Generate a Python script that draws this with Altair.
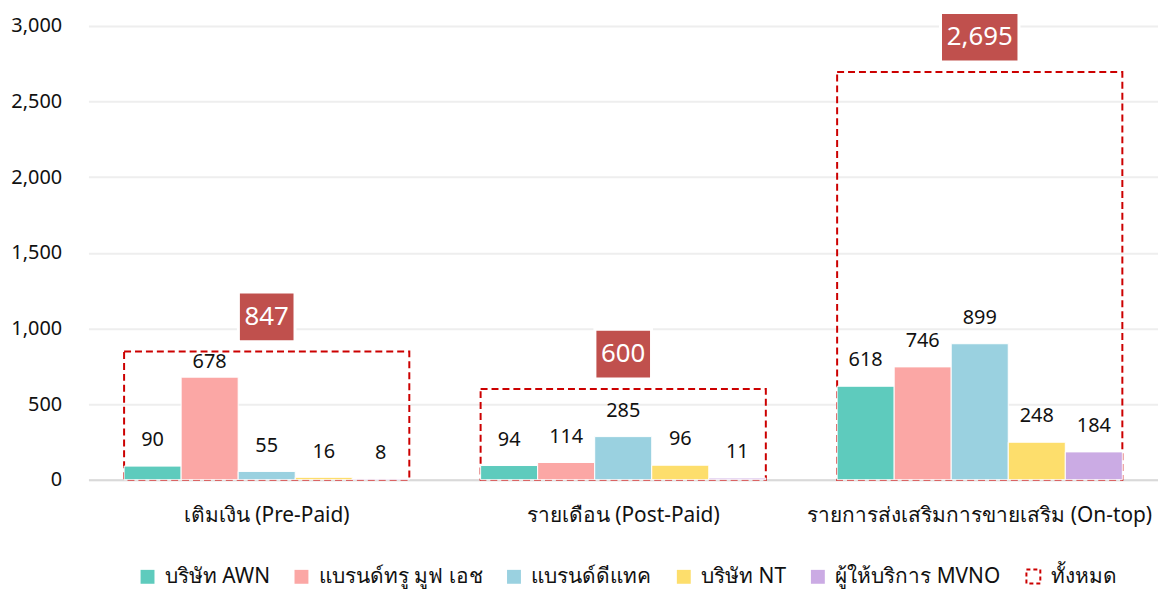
import altair as alt
import pandas as pd

categories = ["เติมเงิน (Pre-Paid)", "รายเดือน (Post-Paid)", "รายการส่งเสริมการขายเสริม (On-top)"]
series = ["บริษัท AWN", "แบรนด์ทรู มูฟ เอช", "แบรนด์ดีแทค", "บริษัท NT", "ผู้ให้บริการ MVNO"]
awn = [90, 94, 618]
truemove = [678, 114, 746]
dtac = [55, 285, 899]
nt = [16, 96, 248]
mvno = [8, 11, 184]
totals = [847, 600, 2695]
total_name = "ทั้งหมด"
y_ticks = [0, 500, 1000, 1500, 2000, 2500, 3000]

colors = ["#5ECBBD", "#FBA7A5", "#9AD1E0", "#FDDE6C", "#CBABE4"]
FONT = "Tahoma, 'Noto Sans', 'DejaVu Sans', sans-serif"
TXT = "#111111"

rows = []
for s, vals in zip(series, [awn, truemove, dtac, nt, mvno]):
    for c, v, t in zip(categories, vals, totals):
        rows.append({"category": c, "series": s, "value": v, "total": t})
df = pd.DataFrame(rows)
tot_df = pd.DataFrame({"category": categories, "total": totals, "kind": [total_name] * 3})

yscale = alt.Scale(domain=[0, 3000])
x_enc = alt.X(
    "category:N", sort=categories,
    scale=alt.Scale(paddingInner=0.2, paddingOuter=0.1),
    axis=alt.Axis(title=None, labelAngle=0, labelFontSize=21, labelColor=TXT, labelLimit=600,
                  labelPadding=25, ticks=False, domain=True, domainColor="#D9D9D9",
                  domainWidth=2, grid=False),
)
y_axis = alt.Axis(title=None, values=y_ticks, format=",", labelExpr="format(datum.value, ',')",
                  labelFontSize=20, labelColor=TXT, labelPadding=27, ticks=False, domain=False,
                  gridColor="#EEEEEE", gridWidth=2)
xoff = alt.XOffset("series:N", sort=series, scale=alt.Scale(paddingInner=0, paddingOuter=0))

box = alt.Chart(tot_df).mark_bar(fill="white", fillOpacity=0, strokeWidth=2, strokeDash=[7, 4]).encode(
    x=x_enc,
    y=alt.Y("total:Q", scale=yscale, axis=y_axis),
    stroke=alt.Stroke("kind:N", scale=alt.Scale(domain=[total_name], range=["#CC0000"]),
                      legend=alt.Legend(orient="none", legendX=941, legendY=544, title=None,
                                        symbolType="square", symbolSize=196, symbolDash=[4, 3],
                                        symbolStrokeWidth=2, symbolFillColor="white",
                                        labelFontSize=21, labelColor=TXT, labelOffset=7,
                                        labelLimit=400, padding=0)),
)

bars = alt.Chart(df).mark_bar(stroke="white", strokeWidth=1).encode(
    x=alt.X("category:N", sort=categories),
    xOffset=xoff,
    y=alt.Y("value:Q", scale=yscale, axis=y_axis),
    color=alt.Color("series:N", sort=series, scale=alt.Scale(domain=series, range=colors),
                    legend=alt.Legend(orient="none", legendX=49, legendY=544, direction="horizontal",
                                      columns=5, title=None, symbolType="square", symbolSize=196,
                                      symbolStrokeWidth=0, labelFontSize=21, labelColor=TXT,
                                      labelOffset=7, labelLimit=400, columnPadding=21, padding=0)),
)

labels = alt.Chart(df).transform_calculate(
    ly="min(datum.value + 170, datum.total - 70)"
).mark_text(fontSize=20, color=TXT, baseline="middle").encode(
    x=alt.X("category:N", sort=categories),
    xOffset=xoff,
    y=alt.Y("ly:Q", scale=yscale, axis=y_axis),
    text=alt.Text("value:Q", format=","),
)

short_path = "M-28.5,-25L28.5,-25L28.5,25L-28.5,25Z"
long_path = "M-39.5,-25L39.5,-25L39.5,25L-39.5,25Z"

tot_box = alt.Chart(tot_df).transform_calculate(
    w="length(format(datum.total, ',')) > 3 ? 'long' : 'short'"
).mark_point(filled=True, fill="#C0504D", opacity=1, stroke="white", strokeWidth=3,
             size=4, yOffset=-35).encode(
    x=alt.X("category:N", sort=categories),
    y=alt.Y("total:Q", scale=yscale, axis=y_axis),
    shape=alt.Shape("w:N", scale=alt.Scale(domain=["short", "long"], range=[short_path, long_path]),
                    legend=None),
)

tot_text = alt.Chart(tot_df).mark_text(fontSize=26, color="white", baseline="middle", dy=-35).encode(
    x=alt.X("category:N", sort=categories),
    y=alt.Y("total:Q", scale=yscale, axis=y_axis),
    text=alt.Text("total:Q", format=","),
)

chart = alt.layer(box, bars, labels, tot_box, tot_text).resolve_scale(
    color="independent", stroke="independent"
).properties(
    width=1077, height=457,
    autosize=alt.AutoSizeParams(type="none"),
    padding={"left": 81, "top": 16, "right": 0, "bottom": 108},
).configure(font=FONT).configure_view(strokeWidth=0)

chart.save("out.html", embed_options={"renderer": "svg", "actions": False})
